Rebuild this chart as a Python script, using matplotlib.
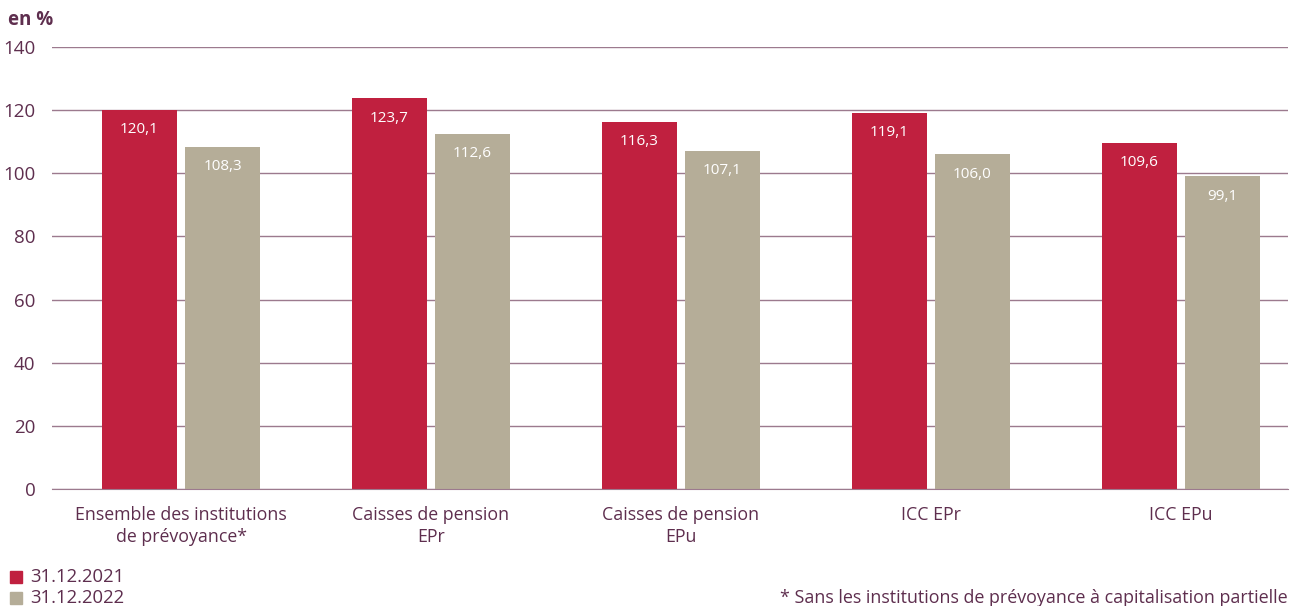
import matplotlib.pyplot as plt
import numpy as np

plt.rcParams['font.family'] = ['Open Sans', 'DejaVu Sans']

categories = ["Ensemble des institutions\nde prévoyance*", "Caisses de pension\nEPr",
              "Caisses de pension\nEPu", "ICC EPr", "ICC EPu"]
vals_2021 = [120.1, 123.7, 116.3, 119.1, 109.6]
vals_2022 = [108.3, 112.6, 107.1, 106.0, 99.1]
series_names = ["31.12.2021", "31.12.2022"]
yticks = [0, 20, 40, 60, 80, 100, 120, 140]

RED = '#C0203F'
BEIGE = '#B5AD98'
TXT = '#5E2E4E'
GRID = '#9C7A8E'

fig = plt.figure(figsize=(13, 6.06), dpi=100)
ax = fig.add_axes([0.04, 0.1931, 0.9508, 0.7293])

x = np.arange(len(categories))
w = 0.3
off = 0.166
b1 = ax.bar(x - off, vals_2021, w, color=RED, zorder=3)
b2 = ax.bar(x + off, vals_2022, w, color=BEIGE, zorder=3)

for bars, vals in ((b1, vals_2021), (b2, vals_2022)):
    for r, v in zip(bars, vals):
        ax.text(r.get_x() + r.get_width() / 2, v - 6.3, f"{v:.1f}".replace('.', ','),
                ha='center', va='center', color='white', fontsize=11, zorder=4)

ax.set_xlim(-0.516, 4.428)
ax.set_ylim(0, 140)
ax.set_yticks(yticks)
ax.set_yticklabels([str(t) for t in yticks], fontsize=13.5, color=TXT)
ax.set_xticks(x)
ax.set_xticklabels(categories, fontsize=12.8, color=TXT, linespacing=1.3)
ax.tick_params(length=0)
ax.tick_params(axis='x', pad=12)
ax.tick_params(axis='y', pad=12)
ax.yaxis.grid(True, color=GRID, lw=1, zorder=0)
for s in ('top', 'right', 'left'):
    ax.spines[s].set_visible(False)
ax.spines['bottom'].set_color(GRID)
ax.spines['bottom'].set_zorder(5)

fig.text(0.006, 0.967, "en %", fontsize=13.5, fontweight='bold', color=TXT, ha='left', va='center')

# legend
for i, (name, col) in enumerate(zip(series_names, [RED, BEIGE])):
    yy = 1 - (577 + i * 21) / 606
    fig.patches.append(plt.Rectangle((10 / 1300, yy - 6 / 606), 12 / 1300, 12 / 606,
                                     transform=fig.transFigure, color=col))
    fig.text(30 / 1300, yy, name, fontsize=13.3, color=TXT, va='center', ha='left')

fig.text(1288 / 1300, 1 - 598 / 606, "* Sans les institutions de prévoyance à capitalisation partielle",
         fontsize=12.9, color=TXT, ha='right', va='center')

fig.savefig('out.png', dpi=100)
